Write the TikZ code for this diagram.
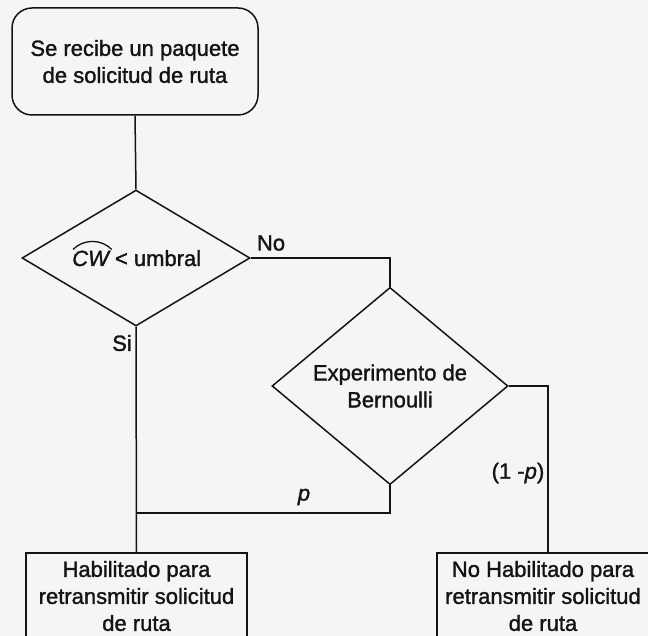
\documentclass[tikz,border=0pt]{standalone}
\usepackage{fontspec}
\setmainfont{Liberation Sans}
\newfontfamily\scanfont[FakeBold=1.4]{Liberation Sans}
\usetikzlibrary{shapes.geometric}
\definecolor{paper}{HTML}{F5F5F3}
\definecolor{ink}{HTML}{141414}
\begin{document}
\begin{tikzpicture}[x=1pt,y=-1pt,
  every node/.style={font=\scanfont\fontsize{22}{27}\selectfont, text=ink},
  conn/.style={draw=ink, line width=1.5pt},
  startbox/.style={draw=ink, line width=1.5pt, rounded corners=20pt, align=center,
     minimum width=246pt, minimum height=107pt, inner sep=0pt},
  decision/.style={draw=ink, line width=1.5pt, diamond, align=center, inner sep=0pt},
  outbox/.style={draw=ink, line width=1.5pt, rectangle, align=center,
     minimum height=86pt, inner sep=0pt},
  lbl/.style={inner sep=0pt}]
\useasboundingbox (0,0) rectangle (648,636);
\fill[paper] (0,0) rectangle (648,636);
\clip (0,0) rectangle (648,636);

\node[startbox] (start) at (135,61.5) {Se recibe un paquete\\de solicitud de ruta};
\node[decision, minimum width=228pt, minimum height=136pt] (d1) at (136,258) {};
\node[decision, minimum width=236pt, minimum height=140pt] (d2) at (390,386)
  {Experimento de\\Bernoulli};
\node[outbox, minimum width=221pt] (b1) at (136.5,596)
  {Habilitado para\\retransmitir solicitud\\de ruta};
\node[outbox, minimum width=212pt] (b2) at (543,596)
  {No Habilitado para\\retransmitir solicitud\\de ruta};

\node[lbl, anchor=base west] (cw) at (72,266) {\textit{CW}};
\node[lbl, anchor=base west] (umb) at ([xshift=4pt]cw.base east) {< umbral};
\draw[ink, line width=1.3pt] ([xshift=1pt,yshift=1pt]cw.north west)
  to[bend left=45] ([xshift=1pt,yshift=1pt]cw.north east);

\coordinate (j) at (136,513);

\draw[conn] (start.south) -- (d1.north);
\draw[conn] (d1.east) -| (d2.north);
\draw[conn] (d1.south) -- (b1.north);
\draw[conn] (d2.south) |- (j);
\draw[conn] (d2.east) -| ([xshift=5pt]b2.north);

\node[lbl] (no) at (271,243) {No};
\node[lbl] (si) at (122,343) {Si};
\node[lbl] (pl) at (304,497) {\textit{p}};
\node[lbl] (qp) at (518,473) {(1 -\textit{p})};
\end{tikzpicture}
\end{document}
